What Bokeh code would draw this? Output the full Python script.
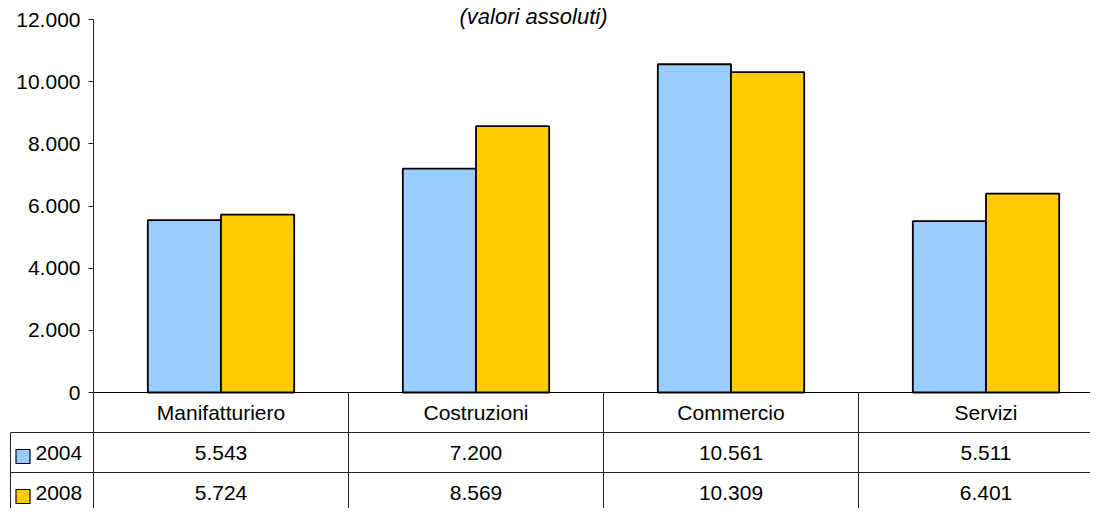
from bokeh.plotting import figure
from bokeh.models import Range1d, LinearAxis, FixedTicker, Label
from bokeh.core.properties import value
from bokeh.embed import file_html
from bokeh.resources import INLINE

categories = ["Manifatturiero", "Costruzioni", "Commercio", "Servizi"]
years = ["2004", "2008"]
values_2004 = [5543, 7200, 10561, 5511]
values_2008 = [5724, 8569, 10309, 6401]
y_ticks = [0, 2000, 4000, 6000, 8000, 10000, 12000]
subtitle = "(valori assoluti)"
colors = ["#99CCFF", "#FFCC00"]

FONT = "Liberation Sans"
FS = "21px"


def it_fmt(v):
    return f"{v:,}".replace(",", ".")


# layout constants (pixels inside the figure)
W, H = 1090, 508
X0_PX = 93        # value axis position
CAT_PX = 255      # width of one category
Y0_PX = 392       # zero line
YTOP_PX = 19      # position of the top tick
ROW_PX = 40       # table row height
upp = y_ticks[-1] / (Y0_PX - YTOP_PX)   # data units per pixel (y)

x_start = -X0_PX / CAT_PX
x_end = (W - X0_PX) / CAT_PX
y_end = y_ticks[-1] + YTOP_PX * upp
y_start = -(H - Y0_PX) * upp


def px_x(px):
    return (px - X0_PX) / CAT_PX


def px_dy(px):
    return -px * upp


p = figure(width=W, height=H, x_range=Range1d(x_start, x_end),
           y_range=Range1d(y_start, y_end), output_backend="svg",
           toolbar_location=None, x_axis_location=None, y_axis_location=None,
           min_border=0, outline_line_color=None, background_fill_color="white",
           border_fill_color="white")
p.grid.grid_line_color = None

n = len(categories)
centers = [i + 0.5 for i in range(n)]
bw = 0.287

p.vbar(x=[c - bw / 2 for c in centers], top=values_2004, bottom=0, width=bw,
       fill_color=colors[0], line_color="black", line_width=1.8)
p.vbar(x=[c + bw / 2 for c in centers], top=values_2008, bottom=0, width=bw,
       fill_color=colors[1], line_color="black", line_width=1.8)

# value axis
yaxis = LinearAxis(fixed_location=0, ticker=FixedTicker(ticks=y_ticks),
                   bounds=(y_start, y_ticks[-1]),
                   major_label_overrides={t: it_fmt(t) for t in y_ticks},
                   major_tick_out=5, major_tick_in=0,
                   minor_tick_line_color=None, major_label_standoff=8,
                   axis_line_color="#222222", major_tick_line_color="#222222",
                   major_label_text_font=FONT, major_label_text_font_size=FS,
                   major_label_text_color="black")
p.add_layout(yaxis, "left")

# category axis
xaxis = LinearAxis(fixed_location=0, ticker=FixedTicker(ticks=centers),
                   bounds=(0, x_end),
                   major_label_overrides={c: cat for c, cat in zip(centers, categories)},
                   major_tick_line_color=None, major_tick_out=0, major_tick_in=0,
                   minor_tick_line_color=None, major_label_standoff=8,
                   axis_line_color="black",
                   major_label_text_font=FONT, major_label_text_font_size=FS,
                   major_label_text_color="black")
p.add_layout(xaxis, "below")

# data table grid
table_left = px_x(10)
seps = list(range(1, n))
p.segment(x0=seps, y0=[0] * len(seps), x1=seps, y1=[y_start] * len(seps),
          line_color="#222222", line_width=1)
p.segment(x0=[table_left], y0=[px_dy(ROW_PX)], x1=[table_left], y1=[y_start],
          line_color="#222222", line_width=1)
row_lines = [px_dy(ROW_PX), px_dy(2 * ROW_PX)]
p.segment(x0=[table_left] * 2, y0=row_lines, x1=[x_end] * 2, y1=row_lines,
          line_color="#222222", line_width=1)

# table values
for r, vals in enumerate([values_2004, values_2008]):
    yc = px_dy(ROW_PX * (r + 1.5))
    p.text(x=centers, y=[yc] * n, text=[it_fmt(v) for v in vals],
           text_align="center", text_baseline="middle",
           text_font=value(FONT), text_font_size=FS, text_color="black")
    p.rect(x=[px_x(22.5)], y=[px_dy(ROW_PX * (r + 1.5) + 4)], width=14, height=14,
           width_units="screen", height_units="screen",
           fill_color=colors[r], line_color="black", line_width=1.2)
    p.text(x=[px_x(35)], y=[yc], text=[years[r]], text_align="left",
           text_baseline="middle", text_font=value(FONT), text_font_size=FS,
           text_color="black")

p.add_layout(Label(x=px_x(533), y=y_ticks[-1] + 3 * upp, text=subtitle,
                   text_align="center", text_baseline="middle",
                   text_font=FONT, text_font_size="22px", text_font_style="italic",
                   text_color="black"))

open("out.html", "w").write(file_html(p, INLINE))
